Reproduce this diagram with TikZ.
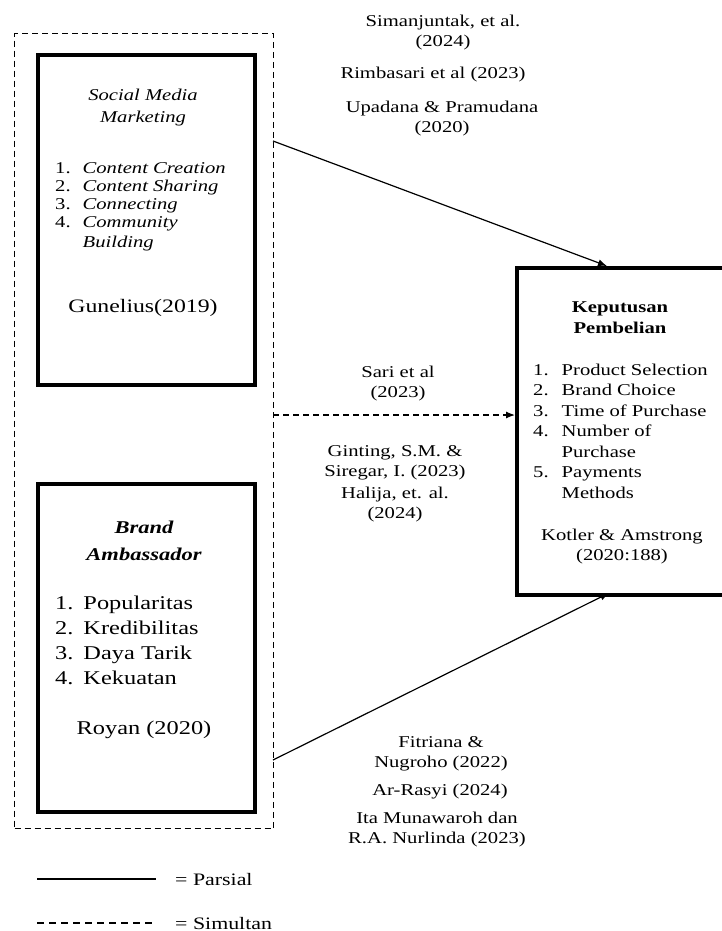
\documentclass[tikz,border=0pt]{standalone}
\usepackage{fontspec}
\setmainfont[FakeStretch=1.25]{Liberation Serif}
\usetikzlibrary{arrows.meta}
\tikzset{
  varbox/.style={draw, line width=4pt, inner sep=0pt, anchor=north west},
  outerbox/.style={draw, dashed, dash pattern=on 6pt off 4pt, line width=1.1pt, inner sep=0pt, anchor=north west},
  conn/.style={line width=1.2pt, -{Latex[length=9pt,width=7pt]}},
  dconn/.style={conn, dash pattern=on 6pt off 4pt},
  cite/.style={align=center, inner sep=0pt, font=\fontsize{16.5}{20}\selectfont},
  boxtxt/.style={inner sep=0pt, font=\fontsize{16.5}{18}\selectfont},
}
\begin{document}
\begin{tikzpicture}[x=1pt,y=-1pt]
\useasboundingbox (0,0) rectangle (721,931);
% outer dashed frame
\node[outerbox, minimum width=259pt, minimum height=795pt] (outer) at (14,33) {};
% boxes
\node[varbox, minimum width=217pt, minimum height=330pt] (smm) at (36,53) {};
\node[varbox, minimum width=217pt, minimum height=328pt] (ba) at (36,482) {};
\node[varbox, minimum width=215pt, minimum height=327pt] (kp) at (515,266) {};

% SMM text
\node[boxtxt, align=center, anchor=base, font=\fontsize{16.5}{22}\selectfont\itshape] (smmt) at (143,123) {Social Media\\Marketing};
\node[boxtxt, anchor=base west] (smmi) at (55,173) {\begin{tabular}[t]{@{}l@{\hspace{12pt}}l@{}}1. & \textit{Content Creation}\\2. & \textit{Content Sharing}\\3. & \textit{Connecting}\\4. & \textit{Community}\\[2pt] & \textit{Building}\end{tabular}};
\node[boxtxt, anchor=base, font=\fontsize{19}{22}\selectfont] (smmc) at (143,312) {Gunelius(2019)};

% BA text
\node[boxtxt, align=center, anchor=base, font=\fontsize{18}{27}\selectfont\bfseries\itshape] (bat) at (144,560) {Brand\\Ambassador};
\node[boxtxt, anchor=base west, font=\fontsize{19.5}{25}\selectfont] (bai) at (55,609) {\begin{tabular}[t]{@{}l@{\hspace{10pt}}l@{}}1. & Popularitas\\2. & Kredibilitas\\3. & Daya Tarik\\4. & Kekuatan\end{tabular}};
\node[boxtxt, anchor=base, font=\fontsize{19.5}{25}\selectfont] (bac) at (144,734) {Royan (2020)};

% KP text
\node[boxtxt, align=center, anchor=base, font=\fontsize{16.5}{21}\selectfont\bfseries] (kpt) at (620,333) {Keputusan\\Pembelian};
\node[boxtxt, anchor=base west, font=\fontsize{16.5}{20.5}\selectfont] (kpi) at (533,375) {\begin{tabular}[t]{@{}l@{\hspace{13pt}}l@{}}1. & Product Selection\\2. & Brand Choice\\3. & Time of Purchase\\4. & Number of\\ & Purchase\\5. & Payments\\ & Methods\end{tabular}};
\node[boxtxt, align=center, anchor=base, font=\fontsize{16.5}{20}\selectfont] (kpc) at (622,560) {Kotler \& Amstrong\\(2020:188)};

% connector endpoints on the dashed frame
\coordinate (s1) at (273,141);
\coordinate (s2) at (273,415);
\coordinate (s3) at (273,760);
\coordinate (e1) at (607,266);
\coordinate (e3) at (609,593);
\draw[conn] (s1) -- (e1);
\draw[dconn] (s2) -- (kp.west |- s2);
\draw[conn] (s3) -- (e3);

% citations
\node[cite, anchor=base] (c1) at (443,47) {Simanjuntak, et al.\\(2024)};
\node[cite, anchor=base] (c2) at (433,79) {Rimbasari et al (2023)};
\node[cite, anchor=base] (c3) at (442,132) {Upadana \& Pramudana\\(2020)};
\node[cite, anchor=base] (c4) at (398,397) {Sari et al\\(2023)};
\node[cite, anchor=base] (c5) at (395,476) {Ginting, S.M. \&\\Siregar, I. (2023)};
\node[cite, anchor=base] (c6) at (395,518) {Halija, et. al.\\(2024)};
\node[cite, anchor=base] (c7) at (441,767) {Fitriana \&\\Nugroho (2022)};
\node[cite, anchor=base] (c8) at (440,795) {Ar-Rasyi (2024)};
\node[cite, anchor=base] (c9) at (437,843) {Ita Munawaroh dan\\R.A. Nurlinda (2023)};

% legend
\coordinate (l1a) at (37,879);
\coordinate (l1b) at (156,879);
\coordinate (l2a) at (37,923);
\coordinate (l2b) at (156,923);
\draw[line width=1.2pt] (l1a) -- (l1b);
\draw[line width=1.2pt, dash pattern=on 7pt off 5pt] (l2a) -- (l2b);
\node[cite, anchor=base west, font=\fontsize{17.5}{20}\selectfont] (lg1) at (175,885) {= Parsial};
\node[cite, anchor=base west, font=\fontsize{17.5}{20}\selectfont] (lg2) at (175,929) {= Simultan};
\end{tikzpicture}
\end{document}
